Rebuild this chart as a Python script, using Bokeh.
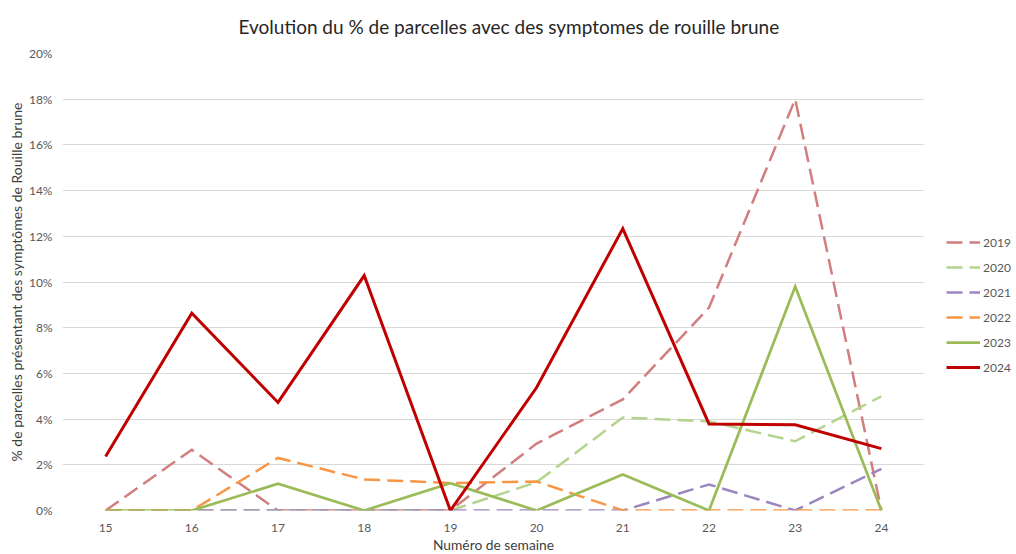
from bokeh.plotting import figure
from bokeh.models import Legend, LegendItem, FixedTicker, PrintfTickFormatter, Range1d
from bokeh.embed import file_html
from bokeh.resources import INLINE

weeks = [15, 16, 17, 18, 19, 20, 21, 22, 23, 24]
week_labels = ["15", "16", "17", "18", "19", "20", "21", "22", "23", "24"]
y2019 = [0, 2.66, 0, 0, 0, 2.93, 4.86, 8.88, 18.0, 0]
y2020 = [0, 0, 0, 0, 0, 1.24, 4.07, 3.9, 3.03, 5.0]
y2021 = [0, 0, 0, 0, 0, 0, 0, 1.14, 0, 1.82]
y2022 = [0, 0, 2.3, 1.36, 1.2, 1.27, 0, 0, 0, 0]
y2023 = [0, 0, 1.17, 0, 1.2, 0, 1.58, 0, 9.8, 0]
y2024 = [2.36, 8.63, 4.73, 10.28, 0, 5.38, 12.34, 3.79, 3.75, 2.71]
y_ticks = [0, 2, 4, 6, 8, 10, 12, 14, 16, 18, 20]

series = [
    ("2019", y2019, "#D27E7E", "16 7", 2.5),
    ("2020", y2020, "#B3D38F", "16 7", 2.5),
    ("2021", y2021, "#9C86C0", "16 7", 2.5),
    ("2022", y2022, "#F79646", "16 7", 2.5),
    ("2023", y2023, "#9BBB59", "solid", 2.75),
    ("2024", y2024, "#C00000", "solid", 3.0),
]

FONT = "Lato"
FW, FH = 862, 457

p = figure(output_backend="svg", toolbar_location=None,
           x_range=Range1d(14.5, 24.5), y_range=Range1d(0, 20),
           min_border_left=62, min_border_top=0, min_border_right=86, min_border_bottom=20,
           frame_width=FW, frame_height=FH,
           title="Evolution du % de parcelles avec des symptomes de rouille brune")
p.outline_line_color = None
p.background_fill_color = "white"
p.border_fill_color = "white"

p.title.align = "left"
p.title.offset = 176
p.title.vertical_align = "top"
p.title.text_font = FONT
p.title.text_font_size = "19px"
p.title.text_font_style = "normal"
p.title.text_color = "#262626"
p.title.standoff = 28

p.xgrid.grid_line_color = None
p.ygrid.grid_line_color = "#D9D9D9"
p.ygrid.grid_line_width = 1

p.xaxis.ticker = FixedTicker(ticks=weeks)
p.xaxis.major_label_overrides = {w: l for w, l in zip(weeks, week_labels)}
p.yaxis.ticker = FixedTicker(ticks=y_ticks)
p.yaxis.formatter = PrintfTickFormatter(format="%d%%")

for ax in (p.xaxis[0], p.yaxis[0]):
    ax.axis_line_color = None
    ax.major_tick_line_color = None
    ax.minor_tick_line_color = None
    ax.major_tick_out = 0
    ax.major_tick_in = 0
    ax.major_label_text_font = FONT
    ax.major_label_text_font_size = "12px"
    ax.major_label_text_color = "#595959"
    ax.axis_label_text_font = FONT
    ax.axis_label_text_font_style = "normal"
    ax.axis_label_text_color = "#404040"

p.xaxis.axis_label = "Numéro de semaine"
p.xaxis.axis_label_text_font_size = "13.8px"
p.xaxis.major_label_standoff = 13
p.xaxis.axis_label_standoff = 1
p.yaxis.axis_label = "% de parcelles présentant des symptômes de Rouille brune"
p.yaxis.axis_label_text_font_size = "14px"
p.yaxis.major_label_standoff = 10
p.yaxis.axis_label_standoff = 1

items = []
for name, vals, color, dash, w in series:
    r = p.line(weeks, vals, line_color=color, line_width=w, line_dash=dash, line_join="miter")
    items.append(LegendItem(label=name, renderers=[r]))

legend = Legend(items=items, location=(22, 133),
                glyph_width=34, glyph_height=20, label_height=20, spacing=5,
                label_standoff=3, padding=0, margin=0,
                label_text_font=FONT, label_text_font_size="12px",
                label_text_color="#595959",
                border_line_color=None, background_fill_alpha=0)
p.add_layout(legend, "right")

open("out.html", "w").write(file_html(p, INLINE))
